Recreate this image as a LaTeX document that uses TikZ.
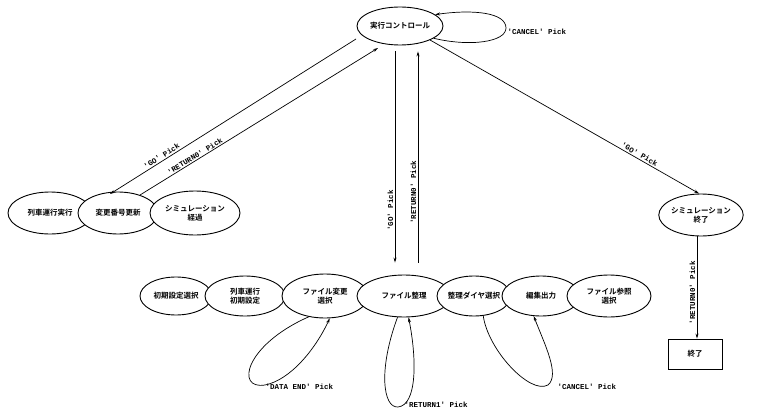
\documentclass[tikz,border=0pt]{standalone}
\usepackage{fontspec}
\newfontfamily\jp{Noto Sans CJK JP}[BoldFont={* Bold}]
\newfontfamily\lab{Liberation Mono}
\usetikzlibrary{arrows.meta,shapes.geometric}
\begin{document}
\begin{tikzpicture}[x=1pt,y=-1pt,
  st/.style={ellipse,draw,line width=0.9pt,fill=white,inner sep=0pt,font=\jp\bfseries\fontsize{7.5}{9}\selectfont,align=center},
  box/.style={rectangle,draw,line width=0.9pt,fill=white,font=\jp\bfseries\fontsize{7.5}{9}\selectfont},
  lbl/.style={font=\lab\bfseries\fontsize{7.5}{8}\selectfont,inner sep=1.5pt},
  arr/.style={line width=0.7pt,-{Stealth[length=5pt,width=3pt]}},
  ln/.style={line width=0.7pt}]
\useasboundingbox (0,0) rectangle (758,412);
% top
\node[st,minimum width=86pt,minimum height=38pt] (top) at (400,26) {実行コントロール};
% left group
\node[st,minimum width=84pt,minimum height=42pt] (L1) at (50,213) {列車運行実行};
\node[st,minimum width=80pt,minimum height=42pt] (L2) at (118,213) {変更番号更新};
\node[st,minimum width=90pt,minimum height=44pt] (L3) at (195,213) {シミュレーション\\経過};
% right
\node[st,minimum width=78pt,minimum height=42pt] (R) at (701,215) {シミュレーション\\終了};
\node[box,minimum width=54pt,minimum height=30pt] (E) at (695,354) {終了};
% bottom group
\node[st,minimum width=72pt,minimum height=38pt] (B1) at (176,296) {初期設定選択};
\node[st,minimum width=80pt,minimum height=40pt] (B2) at (245,296) {列車運行\\初期設定};
\node[st,minimum width=86pt,minimum height=44pt] (B3) at (325,296) {ファイル変更\\選択};
\node[st,minimum width=94pt,minimum height=42pt] (B4) at (404,296) {ファイル整理};
\node[st,minimum width=66pt,minimum height=40pt] (B5) at (474,296) {整理ダイヤ選択};
\node[st,minimum width=78pt,minimum height=40pt] (B6) at (541,296) {編集出力};
\node[st,minimum width=84pt,minimum height=42pt] (B7) at (609,296) {ファイル参照\\選択};
% top self loop
\draw[arr] (top.-20) .. controls (470,47) and (506,42) .. (506,28) .. controls (506,13) and (475,9) .. (top.18);
\node[lbl,anchor=west] (c1) at (506,32) {'CANCEL' Pick};
% left diagonal pair
\draw[arr] ([shift={(-44,13)}]top.center) -- node[lbl,sloped,above,pos=0.78] {'GO' Pick} ([shift={(-8,-19)}]L2.center);
\draw[arr] ([shift={(22,-18)}]L2.center) -- node[lbl,sloped,above,pos=0.24,inner sep=1pt] {'RETURN0' Pick} ([shift={(-22,22)}]top.center);
% vertical pair
\draw[arr,shorten <=6pt,shorten >=12pt] ([xshift=-5pt]top.south) -- ([xshift=-5pt]top.south |- B4.north)
  node[lbl,pos=0.72,rotate=90,anchor=south] {'GO' Pick};
\draw[arr,shorten <=12pt,shorten >=6pt] ([xshift=18pt]top.south |- B4.north) -- ([xshift=18pt]top.south)
  node[lbl,pos=0.36,rotate=90,anchor=south] {'RETURN0' Pick};
% right
\draw[arr] (top.-25) -- node[lbl,sloped,above,pos=0.77] {'GO' Pick} (R.95);
\draw[arr] ([xshift=-4pt]R.south) -- node[lbl,pos=0.55,rotate=90,anchor=south] {'RETURN0' Pick} ([xshift=-4pt]R.south |- E.north);
% bottom loops
\draw[arr] (B3.232) .. controls (245,345) and (235,390) .. (265,385) .. controls (290,380) and (315,350) .. (B3.282);
\node[lbl,anchor=west] (d1) at (264,387) {'DATA END' Pick};
\draw[arr] (B4.253) .. controls (378,370) and (383,408) .. (398,407) .. controls (417,405) and (417,360) .. (B4.282);
\node[lbl,anchor=west] (r1) at (403,405) {'RETURN1' Pick};
\draw[arr] (B5.295) .. controls (488,350) and (530,395) .. (548,385) .. controls (560,375) and (545,345) .. (B6.250);
\node[lbl,anchor=west] (c2) at (556,387) {'CANCEL' Pick};
\end{tikzpicture}
\end{document}
